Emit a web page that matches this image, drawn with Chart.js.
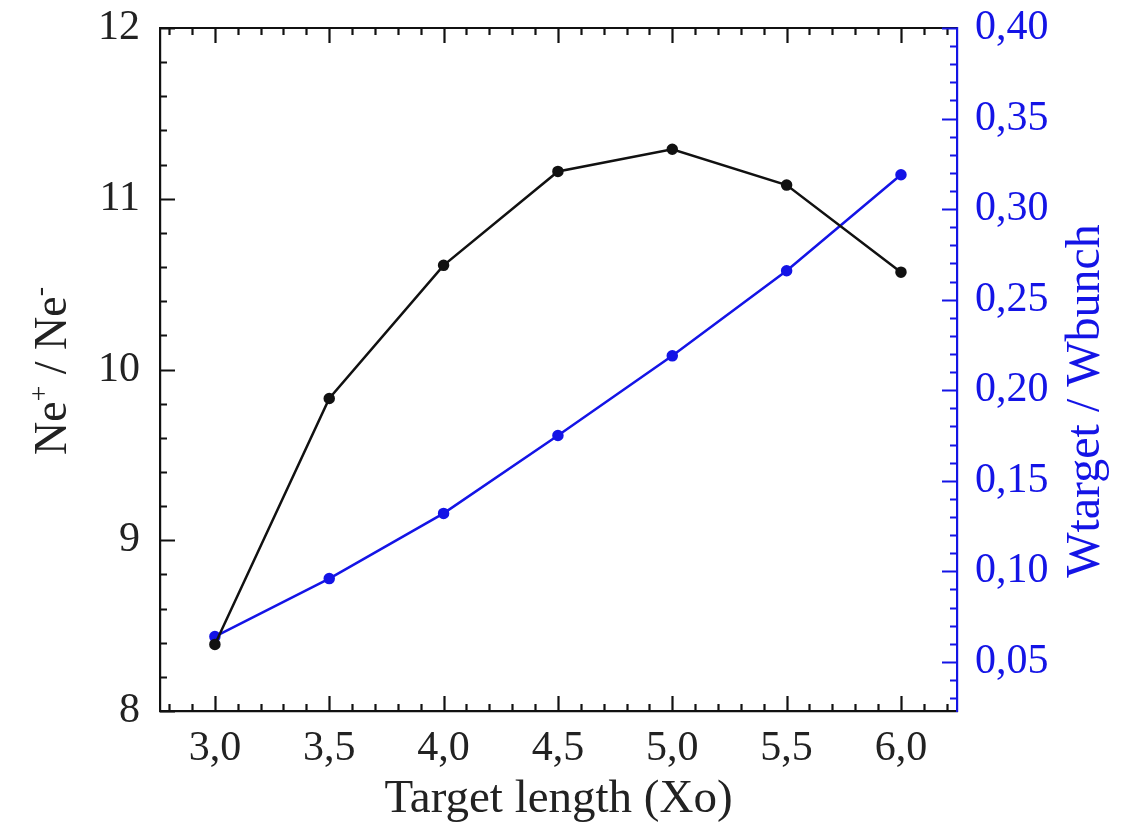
<!DOCTYPE html>
<html><head><meta charset="utf-8">
<script src="https://cdn.jsdelivr.net/npm/chart.js@4/dist/chart.umd.min.js"></script>
<style>html,body{margin:0;padding:0;background:#fff}</style>
</head><body>
<canvas id="c" width="1124" height="823"></canvas>
<script>
const targetLength = [3.0, 3.5, 4.0, 4.5, 5.0, 5.5, 6.0];
const neRatio = [8.39, 9.83, 10.61, 11.16, 11.29, 11.08, 10.57];
const wRatio = [0.064, 0.096, 0.132, 0.175, 0.219, 0.266, 0.319];
const xTickValues = [3.0, 3.5, 4.0, 4.5, 5.0, 5.5, 6.0];
const leftTickValues = [8, 9, 10, 11, 12];
const rightTickValues = [0.05, 0.10, 0.15, 0.20, 0.25, 0.30, 0.35, 0.40];
const xTitle = 'Target length (Xo)';
const leftTitleParts = [['Ne', false], ['+', true], [' / Ne', false], ['-', true]];
const rightTitle = 'Wtarget / Wbunch';

const BLUE = '#1414e6';
const BLACK = '#111111';
const SERIF = "'Liberation Serif', 'DejaVu Serif', serif";

const comma = (v, d) => Number(v).toFixed(d).replace('.', ',');

const tickPlugin = {
  id: 'inwardTicks',
  afterDatasetsDraw(chart) {
    const ctx = chart.ctx;
    const a = chart.chartArea;
    const x = chart.scales.x, yl = chart.scales.y, yr = chart.scales.y2;
    const MAJ = 15, MIN = 7;
    ctx.save();
    ctx.lineWidth = 2.2;
    ctx.strokeStyle = BLACK;
    ctx.beginPath(); ctx.moveTo(a.left, a.top); ctx.lineTo(a.right, a.top); ctx.stroke();
    ctx.beginPath();
    for (let i = Math.ceil(x.min * 10); i <= Math.floor(x.max * 10); i++) {
      const px = Math.round(x.getPixelForValue(i / 10)) + 0.5;
      const len = (i % 5 === 0) ? MAJ : MIN;
      ctx.moveTo(px, a.bottom); ctx.lineTo(px, a.bottom - len);
      ctx.moveTo(px, a.top); ctx.lineTo(px, a.top + len);
    }
    ctx.stroke();
    ctx.beginPath();
    for (let i = Math.ceil(yl.min * 5); i <= Math.floor(yl.max * 5); i++) {
      const py = Math.round(yl.getPixelForValue(i / 5)) + 0.5;
      const len = (i % 5 === 0) ? MAJ : MIN;
      ctx.moveTo(a.left, py); ctx.lineTo(a.left + len, py);
    }
    ctx.stroke();
    ctx.strokeStyle = BLUE;
    ctx.beginPath();
    for (let i = Math.ceil(yr.min * 100 - 1e-6); i <= Math.floor(yr.max * 100 + 1e-6); i++) {
      const py = Math.round(yr.getPixelForValue(i / 100)) + 0.5;
      const len = (i % 5 === 0) ? MAJ : MIN;
      ctx.moveTo(a.right, py); ctx.lineTo(a.right - len, py);
    }
    ctx.stroke();

    // right title, reading upward
    ctx.save();
    ctx.fillStyle = BLUE;
    ctx.font = "48px " + SERIF;
    ctx.textAlign = 'center';
    ctx.textBaseline = 'middle';
    ctx.translate(1086, 401);
    ctx.rotate(-Math.PI / 2);
    ctx.fillText(rightTitle, 0, 0);
    ctx.restore();

    // left title with superscripts, reading upward
    ctx.save();
    ctx.fillStyle = '#222';
    ctx.textBaseline = 'alphabetic';
    ctx.textAlign = 'left';
    const bigF = "46px " + SERIF, supF = "28px " + SERIF;
    let total = 0;
    leftTitleParts.forEach(([t, sup]) => { ctx.font = sup ? supF : bigF; total += ctx.measureText(t).width; });
    ctx.translate(66, 371);
    ctx.rotate(-Math.PI / 2);
    let cx = -total / 2;
    leftTitleParts.forEach(([t, sup]) => {
      ctx.font = sup ? supF : bigF;
      ctx.fillText(t, cx, sup ? -18 : 0);
      cx += ctx.measureText(t).width;
    });
    ctx.restore();
    ctx.restore();
  }
};

const fixVertical = w => s => { s.width = w; s.paddingTop = 0; s.paddingBottom = 0; };

new Chart(document.getElementById('c'), {
  type: 'line',
  data: {
    datasets: [
      {
        label: 'Ne+ / Ne-',
        data: targetLength.map((t, i) => ({ x: t, y: neRatio[i] })),
        yAxisID: 'y',
        borderColor: BLACK,
        backgroundColor: BLACK,
        borderWidth: 2.5,
        pointRadius: 4.5,
        pointHoverRadius: 4.5,
        tension: 0
      },
      {
        label: 'Wtarget / Wbunch',
        data: targetLength.map((t, i) => ({ x: t, y: wRatio[i] })),
        yAxisID: 'y2',
        borderColor: BLUE,
        backgroundColor: BLUE,
        borderWidth: 2.5,
        pointRadius: 4.5,
        pointHoverRadius: 4.5,
        tension: 0
      }
    ]
  },
  options: {
    responsive: false,
    devicePixelRatio: 1,
    animation: false,
    layout: { padding: { top: 28, left: 0, right: 0, bottom: 0 } },
    plugins: { legend: { display: false }, tooltip: { enabled: false } },
    scales: {
      x: {
        type: 'linear',
        position: 'bottom',
        min: 2.76, max: 6.245,
        afterBuildTicks: s => { s.ticks = xTickValues.map(v => ({ value: v })); },
        afterFit: s => { s.height = 112; s.paddingLeft = 0; s.paddingRight = 0; },
        grid: { display: true, drawOnChartArea: false, drawTicks: false },
        border: { display: true, color: BLACK, width: 2.2 },
        ticks: {
          color: '#222', padding: 13, maxRotation: 0, autoSkip: false,
          font: { family: SERIF, size: 42 },
          callback: v => comma(v, 1)
        },
        title: {
          display: true, text: xTitle, color: '#222',
          font: { family: SERIF, size: 47, lineHeight: 1 },
          padding: { top: 0, bottom: 0 }
        }
      },
      y: {
        type: 'linear',
        position: 'left',
        min: 8, max: 12,
        afterBuildTicks: s => { s.ticks = leftTickValues.map(v => ({ value: v })); },
        afterFit: fixVertical(160),
        grid: { display: true, drawOnChartArea: false, drawTicks: false },
        border: { display: true, color: BLACK, width: 2.2 },
        ticks: {
          color: '#222', padding: 20,
          font: { family: SERIF, size: 42 },
          callback: v => String(v)
        },
        title: { display: false }
      },
      y2: {
        type: 'linear',
        position: 'right',
        min: 0.0229, max: 0.40,
        afterBuildTicks: s => { s.ticks = rightTickValues.map(v => ({ value: v })); },
        afterFit: fixVertical(167),
        grid: { display: true, drawOnChartArea: false, drawTicks: false },
        border: { display: true, color: BLUE, width: 2.2 },
        ticks: {
          color: BLUE, padding: 18,
          font: { family: SERIF, size: 42 },
          callback: v => comma(v, 2)
        },
        title: { display: false }
      }
    }
  },
  plugins: [tickPlugin]
});
</script>
</body></html>
